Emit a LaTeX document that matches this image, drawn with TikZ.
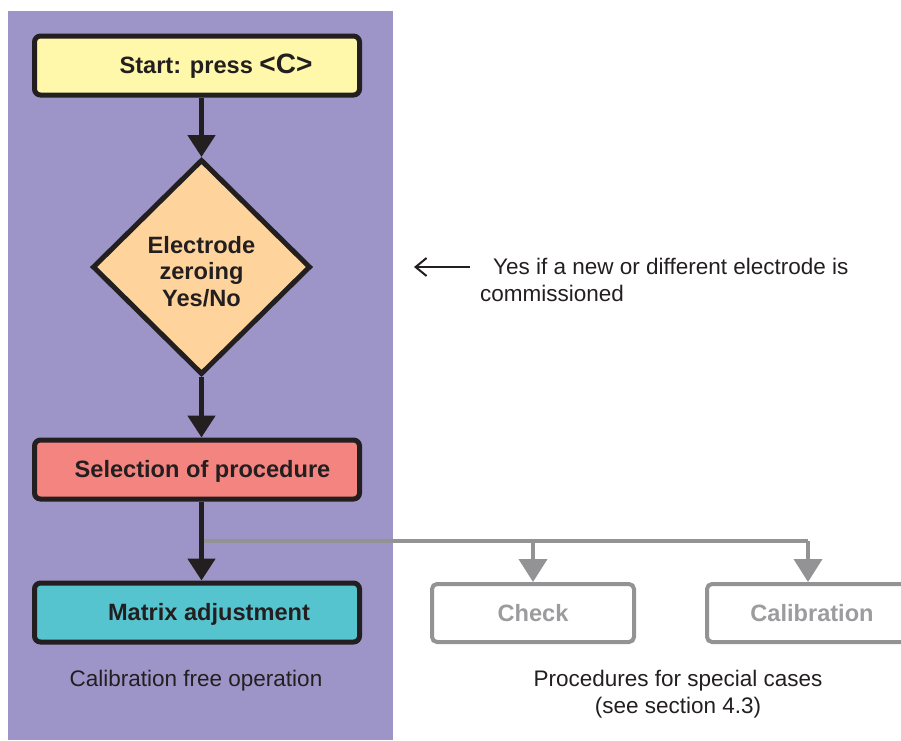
\documentclass[tikz,border=0pt]{standalone}
\usepackage{fontspec}
\setmainfont{Liberation Sans}
\usetikzlibrary{shapes.geometric,arrows.meta}
\definecolor{bgpurple}{HTML}{9D95C8}
\definecolor{startyellow}{HTML}{FFF8AA}
\definecolor{diamondorange}{HTML}{FFD39C}
\definecolor{selred}{HTML}{F4847F}
\definecolor{matteal}{HTML}{56C4CE}
\definecolor{darkline}{HTML}{231F20}
\definecolor{grayline}{HTML}{939395}
\definecolor{graytext}{HTML}{9C9C9E}
\tikzset{
  boldfont/.style={font=\fontsize{23.6}{26.5}\selectfont\bfseries},
  normfont/.style={font=\fontsize{22.5}{27}\selectfont},
  mainbox/.style={draw=darkline, line width=5pt, rounded corners=6pt, minimum width=325pt, minimum height=59pt, inner sep=0pt, boldfont, text=darkline, text height=16pt, text depth=0pt},
  graybox/.style={draw=grayline, line width=4pt, rounded corners=5pt, minimum width=202pt, minimum height=58pt, inner sep=0pt, boldfont, text=graytext, fill=white},
  decision/.style={shape=diamond, draw=darkline, line width=5pt, fill=diamondorange, minimum width=218pt, minimum height=215pt, inner sep=0pt, boldfont, text=darkline},
  flowarrow/.style={draw=darkline, line width=5pt, -{Triangle[length=22pt,width=27pt]}},
  grayarrow/.style={draw=grayline, line width=4pt, -{Triangle[length=23pt,width=28pt]}},
  noteline/.style={draw=darkline, line width=2pt, -{Straight Barb[length=11pt,width=18pt]}},
  plaintext/.style={normfont, text=darkline, inner sep=0pt}
}
\begin{document}
\begin{tikzpicture}[x=1pt,y=-1pt]
\useasboundingbox (0,0) rectangle (901,740);
\fill[bgpurple] (8,11) rectangle (393,740);

\node[mainbox, fill=startyellow] (start) at (197,65.5) {\hspace*{38pt}Start: press {\fontsize{28}{30}\selectfont <C>}};
\node[decision] (zero) at (201.5,267) {\raisebox{-7.5pt}[\height][\depth]{\begin{tabular}{@{}c@{}}Electrode\\zeroing\\Yes/No\end{tabular}}};
\node[mainbox, fill=selred] (sel) at (197,469.5) {\hspace*{11pt}Selection of procedure};
\node[mainbox, fill=matteal] (mat) at (197,612.5) {\hspace*{24pt}Matrix adjustment};

\node[graybox] (check) at (533,613) {Check};
\node[graybox] (calib) at (808,613) {\hspace*{8pt}Calibration};

\node[plaintext] (freeop) at (196,681) {Calibration free operation};
\node[plaintext, align=center] (special) at (678,694.5) {Procedures for special cases\\(see section 4.3)};

\node[plaintext, anchor=west, align=left] (note) at (480,280) {\hspace*{13pt}Yes if a new or different electrode is\\commissioned};
\coordinate (notestart) at (470,267);
\coordinate (noteend) at (414,267);

\coordinate (split) at (201,541);
\coordinate (checktop) at (533,541);
\coordinate (calibtop) at (808,541);

\draw[flowarrow] (start.south -| zero.north) -- (zero.north);
\draw[flowarrow] (zero.south) -- (sel.north -| zero.south);
\draw[grayline, line width=4pt] (split) -- (calibtop);
\draw[grayarrow] (checktop) -- (check.north);
\draw[grayarrow] (calibtop) -- (calib.north);
\draw[flowarrow] (sel.south -| zero.south) -- (mat.north -| zero.south);
\draw[noteline] (notestart) -- (noteend);
\end{tikzpicture}
\end{document}
